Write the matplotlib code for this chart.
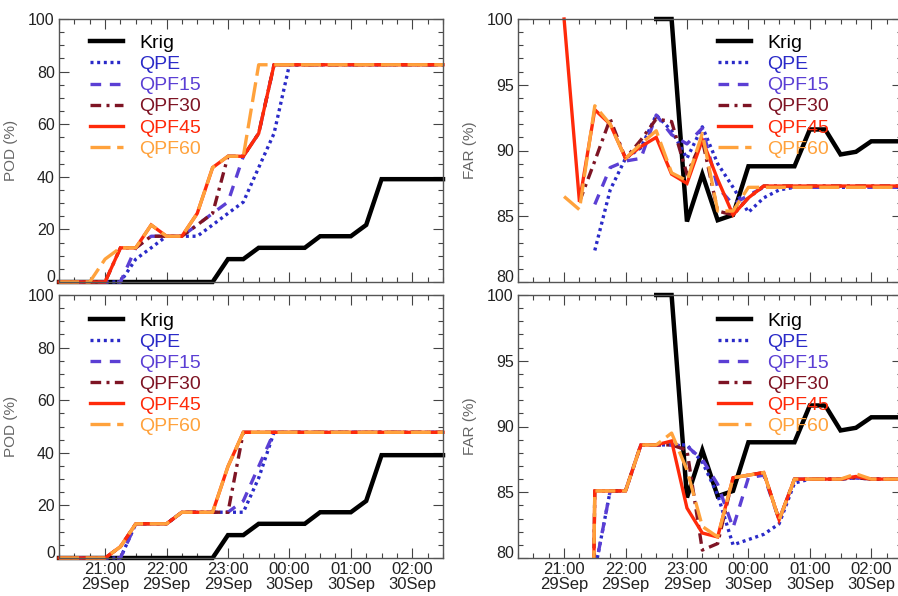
import numpy as np
import pandas as pd
import matplotlib
matplotlib.use('Agg')
import matplotlib.pyplot as plt
import matplotlib.dates as mdates
from matplotlib.patches import Rectangle
from matplotlib.ticker import MultipleLocator

plt.rcParams['font.family'] = ['Liberation Sans', 'DejaVu Sans']

nan = np.nan

# 15 minute steps, 20:15 29Sep -> 02:30 30Sep
times = pd.date_range('2000-09-29 20:15', periods=26, freq='15min')

names = ['Krig', 'QPE', 'QPF15', 'QPF30', 'QPF45', 'QPF60']

# POD (%) - the krig curve is the same in both rows
pod_krig = [0, 0, 0, 0, 0, 0, 0, 0, 0, 0, 0, 8.7, 8.7, 13.0, 13.0, 13.0, 13.0,
            17.4, 17.4, 17.4, 21.7, 39.1, 39.1, 39.1, 39.1, 39.1]

pod_top_qpe = [0, 0, 0, 0, 0, 8.7, 13.0, 17.4, 17.4, 17.4, 21.7, 26.1, 30.4,
               43.5, 56.5, 82.6, 82.6, 82.6, 82.6, 82.6, 82.6, 82.6, 82.6, 82.6, 82.6, 82.6]
pod_top_qpf15 = [0, 0, 0, 0, 0, 13.0, 17.4, 17.4, 17.4, 21.7, 26.1, 30.4, 47.8,
                 56.5, 82.6, 82.6, 82.6, 82.6, 82.6, 82.6, 82.6, 82.6, 82.6, 82.6, 82.6, 82.6]
pod_top_qpf30 = [0, 0, 0, 0, 13.0, 13.0, 17.4, 17.4, 17.4, 21.7, 26.1, 47.8, 47.8,
                 56.5, 82.6, 82.6, 82.6, 82.6, 82.6, 82.6, 82.6, 82.6, 82.6, 82.6, 82.6, 82.6]
pod_top_qpf45 = [0, 0, 0, 0, 13.0, 13.0, 21.7, 17.4, 17.4, 26.1, 43.5, 47.8, 47.8,
                 56.5, 82.6, 82.6, 82.6, 82.6, 82.6, 82.6, 82.6, 82.6, 82.6, 82.6, 82.6, 82.6]
pod_top_qpf60 = [0, 0, 0, 8.7, 13.0, 13.0, 21.7, 17.4, 17.4, 26.1, 43.5, 47.8, 47.8,
                 82.6, 82.6, 82.6, 82.6, 82.6, 82.6, 82.6, 82.6, 82.6, 82.6, 82.6, 82.6, 82.6]

pod_bot_qpe = [0, 0, 0, 0, 0, 13.0, 13.0, 13.0, 17.4, 17.4, 17.4, 17.4, 17.4,
               30.4, 47.8, 47.8, 47.8, 47.8, 47.8, 47.8, 47.8, 47.8, 47.8, 47.8, 47.8, 47.8]
pod_bot_qpf15 = [0, 0, 0, 0, 0, 13.0, 13.0, 13.0, 17.4, 17.4, 17.4, 17.4, 21.7,
                 34.8, 47.8, 47.8, 47.8, 47.8, 47.8, 47.8, 47.8, 47.8, 47.8, 47.8, 47.8, 47.8]
pod_bot_qpf30 = [0, 0, 0, 0, 4.3, 13.0, 13.0, 13.0, 17.4, 17.4, 17.4, 17.4, 47.8,
                 47.8, 47.8, 47.8, 47.8, 47.8, 47.8, 47.8, 47.8, 47.8, 47.8, 47.8, 47.8, 47.8]
pod_bot_qpf45 = [0, 0, 0, 0, 4.3, 13.0, 13.0, 13.0, 17.4, 17.4, 17.4, 34.8, 47.8,
                 47.8, 47.8, 47.8, 47.8, 47.8, 47.8, 47.8, 47.8, 47.8, 47.8, 47.8, 47.8, 47.8]
pod_bot_qpf60 = [0, 0, 0, 0, 4.3, 13.0, 13.0, 13.0, 17.4, 17.4, 17.4, 34.8, 47.8,
                 47.8, 47.8, 47.8, 47.8, 47.8, 47.8, 47.8, 47.8, 47.8, 47.8, 47.8, 47.8, 47.8]

# FAR (%)
far_krig = [nan, nan, nan, nan, nan, nan, nan, nan, nan, 100, 100, 84.6, 88.2, 84.7,
            85.1, 88.8, 88.8, 88.8, 88.8, 91.6, 91.6, 89.7, 89.9, 90.7, 90.7, 90.7]

far_top_qpe = [nan, nan, nan, nan, nan, 82.4, 87.0, 89.4, 90.2, 92.7, 91.5, 89.4, 91.8,
               89.0, 87.2, 85.3, 86.4, 87.0, 87.2, 87.2, 87.2, 87.2, 87.2, 87.2, 87.2, 87.2]
far_top_qpf15 = [nan, nan, nan, nan, nan, 85.9, 88.7, 89.2, 89.4, 92.7, 91.2, 90.5, 91.7,
                 87.2, 85.9, 86.6, 87.2, 87.2, 87.2, 87.2, 87.2, 87.2, 87.2, 87.2, 87.2, 87.2]
far_top_qpf30 = [nan, nan, nan, nan, 86.1, 89.2, 92.4, 89.4, 90.8, 92.4, 92.2, 88.2, 90.8,
                 85.4, 85.1, 86.4, 87.3, 87.3, 87.3, 87.3, 87.3, 87.3, 87.3, 87.3, 87.3, 87.3]
far_top_qpf45 = [nan, nan, nan, 100, 86.1, 93.1, 92.0, 89.4, 90.3, 91.0, 88.2, 87.5, 90.8,
                 87.8, 85.1, 86.4, 87.3, 87.3, 87.3, 87.3, 87.3, 87.3, 87.3, 87.3, 87.3, 87.3]
far_top_qpf60 = [nan, nan, nan, 86.5, 85.5, 93.4, 92.0, 89.4, 90.5, 91.5, 88.3, 87.7, 91.3,
                 85.4, 85.4, 87.2, 87.2, 87.2, 87.2, 87.2, 87.2, 87.2, 87.2, 87.2, 87.2, 87.2]

far_bot_qpe = [nan, nan, nan, nan, nan, 79.0, 85.1, 85.1, 88.6, 88.6, 88.6, 88.6, 87.3,
               84.8, 81.0, 81.4, 81.8, 82.6, 85.7, 86.0, 86.0, 86.0, 86.1, 86.0, 86.0, 86.0]
far_bot_qpf15 = [nan, nan, nan, nan, nan, 79.0, 85.1, 85.1, 88.6, 88.6, 88.6, 88.5, 87.5,
                 85.6, 82.3, 86.1, 86.3, 82.9, 86.0, 86.0, 86.0, 86.0, 86.1, 86.0, 86.0, 86.0]
far_bot_qpf30 = [nan, nan, nan, nan, 0, 85.1, 85.1, 85.1, 88.6, 88.6, 88.6, 88.2, 80.6,
                 81.1, 86.1, 86.3, 86.5, 82.9, 86.0, 86.0, 86.0, 86.0, 86.1, 86.0, 86.0, 86.0]
far_bot_qpf45 = [nan, nan, nan, nan, 0, 85.1, 85.1, 85.1, 88.6, 88.6, 88.9, 83.8, 81.9,
                 81.6, 86.1, 86.3, 86.5, 82.9, 86.0, 86.0, 86.0, 86.0, 86.2, 86.0, 86.0, 86.0]
far_bot_qpf60 = [nan, nan, nan, nan, 0, 85.1, 85.1, 85.1, 88.6, 88.6, 89.5, 86.7, 82.4,
                 81.6, 86.1, 86.3, 86.5, 82.9, 86.0, 86.0, 86.0, 86.0, 86.4, 86.0, 86.0, 86.0]

colors = ['black', '#2a2ac8', '#5b3fd4', '#7e1424', '#ff2a0a', '#ffa23c']
styles = ['-', (0, (0.9, 1.1)), (0, (3.2, 2.6)), (0, (3.2, 1.6, 0.9, 1.6)), '-', (0, (6, 2))]
widths = [3.2, 2.4, 2.4, 2.4, 2.4, 2.4]

W, H = 898, 596
fig = plt.figure(figsize=(W / 100, H / 100), dpi=100)


def px_axes(left, top, width, height):
    return fig.add_axes([left / W, 1 - (top + height) / H, width / W, height / H])


def draw_panel(ax, series, ylabel, ylim, major, minor, leg_x, leg_y, bottom_row, clip_far):
    for name, vals, c, ls, lw in zip(names, series, colors, styles, widths):
        ln, = ax.plot(times, vals, color=c, ls=ls, lw=lw, label=name,
                      solid_joinstyle='miter', dash_capstyle='butt')
        if clip_far:
            ln.set_clip_path(Rectangle((0, 0), 1, 1.04, transform=ax.transAxes))
        else:
            ln.set_clip_on(False)
    ax.set_xlim(times[0], times[-1])
    ax.set_ylim(*ylim)
    ax.yaxis.set_major_locator(MultipleLocator(major))
    ax.yaxis.set_minor_locator(MultipleLocator(minor))
    ax.xaxis.set_major_locator(mdates.HourLocator())
    ax.xaxis.set_minor_locator(mdates.MinuteLocator(byminute=[0, 15, 30, 45]))
    ax.xaxis.set_major_formatter(mdates.DateFormatter('%H:%M\n%d%b'))
    ax.tick_params(which='both', direction='in', top=True, right=True,
                   color='#444444', width=0.8)
    ax.tick_params(which='major', length=7, labelsize=11.5, labelcolor='#222222', pad=3)
    ax.tick_params(axis='x', which='major', labelsize=12)
    ax.tick_params(which='minor', length=3.5)
    if not bottom_row:
        ax.tick_params(axis='x', labelbottom=False)
    for lab in ax.get_xticklabels():
        lab.set_linespacing(0.95)
    # lowest y label sits a little above its tick, like the original
    locs = ax.yaxis.get_majorticklocs()
    for loc, tk in zip(locs, ax.yaxis.get_major_ticks(len(locs))):
        if abs(loc - ylim[0]) < 1e-6:
            tk.label1.set_va('baseline')
    for sp in ax.spines.values():
        sp.set_color('#555555')
        sp.set_linewidth(1.0)
    ax.set_ylabel(ylabel, fontsize=11, color='#666666')
    ax.yaxis.set_label_coords(-0.106, 0.5)
    ax.legend(loc='upper left', bbox_to_anchor=(leg_x, leg_y), frameon=False,
              fontsize=14, handlelength=1.7, handletextpad=0.85, labelspacing=0.18,
              borderpad=0, borderaxespad=0, labelcolor='linecolor')


ax_tl = px_axes(59, 19, 384, 263)
ax_tr = px_axes(518, 19, 384, 263)
ax_bl = px_axes(59, 295, 384, 263)
ax_br = px_axes(518, 295, 384, 263)

draw_panel(ax_tl, [pod_krig, pod_top_qpe, pod_top_qpf15, pod_top_qpf30, pod_top_qpf45, pod_top_qpf60],
           'POD (%)', (0, 100), 20, 5, 0.08, 0.941, False, False)
draw_panel(ax_bl, [pod_krig, pod_bot_qpe, pod_bot_qpf15, pod_bot_qpf30, pod_bot_qpf45, pod_bot_qpf60],
           'POD (%)', (0, 100), 20, 5, 0.08, 0.935, True, False)
draw_panel(ax_tr, [far_krig, far_top_qpe, far_top_qpf15, far_top_qpf30, far_top_qpf45, far_top_qpf60],
           'FAR (%)', (80, 100), 5, 1, 0.52, 0.941, False, True)
draw_panel(ax_br, [far_krig, far_bot_qpe, far_bot_qpf15, far_bot_qpf30, far_bot_qpf45, far_bot_qpf60],
           'FAR (%)', (80, 100), 5, 1, 0.52, 0.935, True, True)

fig.savefig('out.png', dpi=100)
